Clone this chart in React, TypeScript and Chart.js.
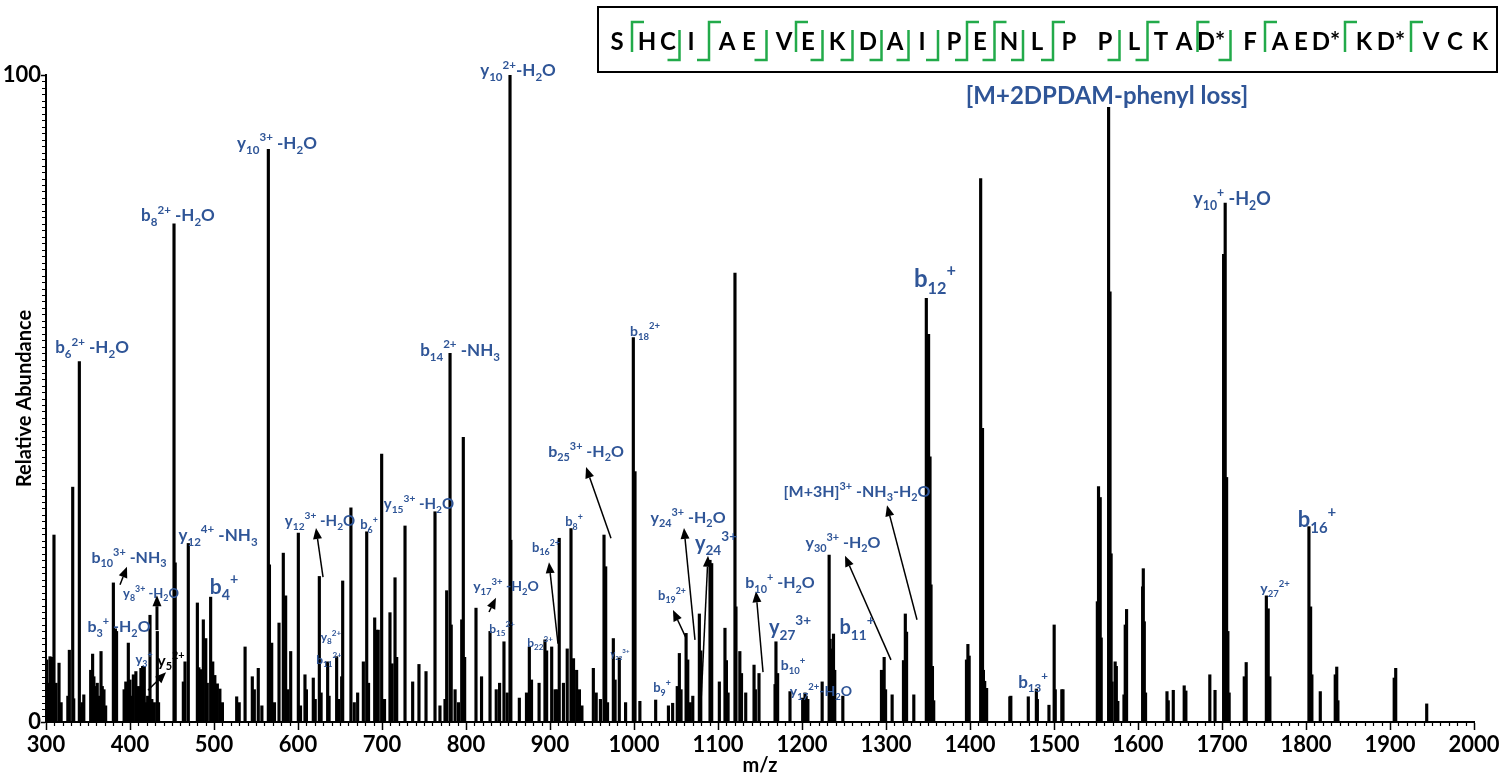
import React, { useEffect, useRef } from "react";
import { Chart, registerables } from "chart.js";

Chart.register(...registerables);

// ---------------- data ----------------
const mzMin = 300;
const mzMax = 2000;
const abundanceTickValues = [0, 100];

// [m/z, relative abundance %]
const peaks: [number, number][] = [
  [301, 9.6], [303, 6], [304.8, 10.1], [307, 10], [309.5, 28.9], [310.8, 3.5], [312, 6], [315.5, 9.1], [318, 3],
  [326, 4], [327.8, 11.1], [331.8, 36.3], [333, 3.6], [339.7, 55.7], [341, 2.3], [343, 3], [345, 4.2],
  [353.2, 8], [355.5, 10.5], [357, 7], [359, 5.5], [361, 6], [363, 4], [365.5, 10.9], [367, 5.5], [369, 5], [371, 2.5],
  [380.2, 21.5], [382.6, 14.4], [384, 14], [393, 5], [395, 6.2], [398, 12.2], [400, 6.5], [402, 4], [404, 7.3],
  [407, 7.8], [410, 5.5], [413, 8.3], [415, 8.6], [417, 8.6], [419, 3], [421, 4],
  [423.8, 16.5], [426, 3.5], [429, 3], [432.5, 14], [434, 3],
  [452.4, 77], [453.8, 24.6], [463.5, 6.2], [465.5, 9.3], [469.4, 27.6],
  [480.2, 18.4], [482, 8.4], [484.5, 8.1], [487.3, 15.8], [490.2, 12.9], [492, 6], [496, 19.3], [498.5, 9.3],
  [501, 7.2], [504, 5.9], [507, 5.1], [510, 3],
  [527, 3.9], [530, 3], [537, 11.6], [545.6, 7], [548, 5], [552.7, 8.3], [557, 2.5],
  [564.7, 88.5], [566, 24.3], [568.7, 12.2], [572, 3], [577.4, 15.3], [582.5, 26.1], [585.3, 19.5], [588, 5], [591.3, 10.9],
  [600.4, 29.2], [603, 2.5], [608.3, 7.3], [610, 5], [618.2, 6.8], [620.5, 3.5], [625.4, 22.5], [627.5, 4.5], [635.3, 9.3], [637, 4],
  [646, 10.1], [648.5, 3.5], [652, 7], [653.2, 21.8], [663, 33.1], [667, 3], [671, 4.5], [677.8, 9.3], [681.8, 29.4], [684, 6],
  [691.3, 16.1], [693.7, 14.2], [695.5, 14.2], [699.6, 41.4], [703, 3.5], [709.5, 16.9], [712, 9], [715.5, 22.3], [717.5, 10],
  [727.4, 30.3], [736.5, 6.2], [744, 8.9], [752.4, 7.8], [763.1, 32.5], [769, 2.5], [775, 3.5], [777, 20.3], [781, 57],
  [782.4, 15], [787, 5], [791, 3],
  [794.9, 15.8], [796.8, 44], [798.4, 10], [811.9, 17.6], [818.5, 7], [828.6, 14], [836, 5], [840, 6], [845.2, 12.4], [849, 4.5],
  [852.4, 100], [853.4, 28.1], [863.5, 3.7], [872, 4.5], [875.4, 11.6], [878, 6.5], [887, 6], [894, 12.7], [896, 11],
  [902, 11.6], [906, 5], [908.5, 5],
  [911, 28.4], [916, 6], [920.5, 11.3], [925, 29.9], [928, 9.8], [931.7, 8], [935, 5], [938, 2.5], [951.6, 8.3], [955, 4.5], [960, 3.5],
  [964.3, 28.9], [966.3, 24], [968.5, 3], [975.4, 12.9], [977.5, 6.5], [982.5, 9.9], [990, 3], [999.2, 59.4], [1001.2, 38.7], [1007, 3.2],
  [1025.8, 3.4], [1041, 2.5], [1046, 2.9], [1051.5, 5.5], [1054, 10.6], [1056, 5], [1062, 13.7], [1064, 9.6], [1067, 3], [1070, 4],
  [1077.8, 16.7], [1079.5, 11], [1090.5, 25], [1092.5, 24.5], [1101.6, 6.2], [1108.3, 14.5], [1110, 9.5], [1112, 4.5],
  [1120.2, 69.4], [1121.4, 17.8], [1126, 10.9], [1128, 7.5], [1133, 4.5], [1142.9, 8.8], [1144.5, 5], [1148.8, 7.5],
  [1167.9, 5.8], [1169, 12.4], [1171, 7.5], [1185.7, 4.7], [1200.8, 3.7], [1203.6, 4.5], [1205, 4], [1207, 3.5],
  [1224, 6.2], [1232.3, 25.8], [1233.5, 12.8], [1235.5, 11.3], [1237.5, 13.6], [1239, 8], [1248.6, 4],
  [1294.6, 8], [1297.8, 10], [1299.5, 5], [1307.3, 4.2], [1320.8, 9.5], [1323, 16.7], [1324.5, 13.9], [1333.1, 4.2],
  [1348, 65.5], [1350.7, 59.9], [1352.4, 41], [1353.6, 21.2], [1355.3, 8.6], [1356.8, 3.3],
  [1395.8, 9.6], [1397.5, 12], [1399, 10.2], [1412.7, 84], [1414.9, 45.4], [1416, 8], [1417.5, 6.3], [1419.8, 5.2],
  [1447.4, 3.9], [1448.6, 4], [1469.4, 3.9], [1479, 5.1], [1480.2, 3.5], [1494, 2.6], [1500.2, 15], [1501.5, 5],
  [1509.3, 5], [1510.7, 5],
  [1551.6, 18.6], [1553, 36.4], [1555, 34.7], [1556.2, 13], [1565, 95], [1566.7, 66.5], [1568, 26], [1569.2, 6.2],
  [1572.8, 9.3], [1574.2, 8.6], [1576, 3.2],
  [1583.3, 4.2], [1584.8, 15], [1586.4, 17.4], [1605.5, 20.9], [1606.3, 23.7], [1607.5, 15.5], [1609, 4.5],
  [1634.5, 4.7], [1636, 3.3], [1642, 4.9], [1655, 5.6], [1657, 4.8], [1685.5, 7.3], [1691.7, 4.9],
  [1701.9, 72.3], [1703.8, 80.2], [1705.5, 37.8], [1707, 14], [1708.5, 4.5], [1726.5, 7], [1728.8, 9.2],
  [1752.8, 19.5], [1755, 17.5], [1757, 7], [1803.5, 30.2], [1805.5, 17.8], [1807, 7.3], [1817, 4.7],
  [1834.8, 7.3], [1836.6, 8.5], [1838, 3.3], [1905, 6.8], [1906.8, 8.3], [1943.7, 2.8],
];

// ion annotations: text (with _{sub} ^{sup}), anchor in data units (centre m/z, baseline %)
type IonLabel = { text: string; mz: number; ab: number; size: number; color?: string };
const ionLabels: IonLabel[] = [
  { text: "y_{10}^{2+}-H_{2}O", mz: 861.9, ab: 99.8, size: 17 },
  { text: "y_{10}^{3+} -H_{2}O", mz: 575, ab: 88.6, size: 17 },
  { text: "b_{8}^{2+} -H_{2}O", mz: 457.1, ab: 77.4, size: 17 },
  { text: "b_{6}^{2+} -H_{2}O", mz: 354.8, ab: 57, size: 17 },
  { text: "b_{14}^{2+} -NH_{3}", mz: 792.9, ab: 56.6, size: 17 },
  { text: "b_{18}^{2+}", mz: 1013.1, ab: 59.7, size: 14 },
  { text: "y_{12}^{4+} -NH_{3}", mz: 504.8, ab: 28, size: 17 },
  { text: "b_{10}^{3+} -NH_{3}", mz: 398.8, ab: 24.6, size: 16 },
  { text: "y_{8}^{3+} -H_{2}O", mz: 425, ab: 19.2, size: 13 },
  { text: "b_{4}^{+}", mz: 511.9, ab: 19.8, size: 21 },
  { text: "b_{3}^{+} -H_{2}O", mz: 386.9, ab: 13.9, size: 16 },
  { text: "y_{3}^{+}", mz: 416.7, ab: 9, size: 13 },
  { text: "y_{5}^{2+}", mz: 448.8, ab: 8.7, size: 16, color: "#000000" },
  { text: "y_{12}^{3+} -H_{2}O", mz: 626.2, ab: 30.3, size: 15 },
  { text: "b_{6}^{+}", mz: 684.5, ab: 29.8, size: 13 },
  { text: "y_{15}^{3+} -H_{2}O", mz: 744, ab: 32.9, size: 15 },
  { text: "y_{8}^{2+}", mz: 639.3, ab: 12.5, size: 12 },
  { text: "b_{11}^{2+}", mz: 636.9, ab: 9, size: 12 },
  { text: "b_{25}^{3+} -H_{2}O", mz: 942.9, ab: 41, size: 16 },
  { text: "b_{8}^{+}", mz: 928.6, ab: 30.3, size: 13 },
  { text: "b_{16}^{2+}", mz: 895.2, ab: 26.3, size: 13 },
  { text: "y_{17}^{3+} -H_{2}O", mz: 847.6, ab: 20.2, size: 14 },
  { text: "b_{15}^{2+}", mz: 842.9, ab: 13.8, size: 12 },
  { text: "b_{22}^{3+}", mz: 888.1, ab: 11.6, size: 12 },
  { text: "y_{22}^{3+}", mz: 983.3, ab: 10, size: 9 },
  { text: "b_{9}^{+}", mz: 1033.3, ab: 4.6, size: 13 },
  { text: "b_{19}^{2+}", mz: 1045.2, ab: 18.9, size: 13 },
  { text: "y_{24}^{3+} -H_{2}O", mz: 1064.3, ab: 30.8, size: 16 },
  { text: "y_{24}^{3+}", mz: 1097.6, ab: 26.6, size: 20 },
  { text: "b_{10}^{+} -H_{2}O", mz: 1173.8, ab: 20.7, size: 16 },
  { text: "y_{27}^{3+}", mz: 1185.7, ab: 13.6, size: 20 },
  { text: "b_{10}^{+}", mz: 1189.3, ab: 8, size: 14 },
  { text: "y_{17}^{2+}-H_{2}O", mz: 1222.6, ab: 4, size: 14 },
  { text: "b_{11}^{+}", mz: 1265.5, ab: 13.6, size: 20 },
  { text: "y_{30}^{3+} -H_{2}O", mz: 1248.8, ab: 26.9, size: 16 },
  { text: "[M+3H]^{3+} -NH_{3}-H_{2}O", mz: 1265.5, ab: 34.8, size: 16 },
  { text: "b_{12}^{+}", mz: 1358.3, ab: 67.2, size: 24 },
  { text: "[M+2DPDAM-phenyl loss]", mz: 1563.1, ab: 95.5, size: 24 },
  { text: "b_{13}^{+}", mz: 1475, ab: 5.3, size: 17 },
  { text: "y_{10}^{+} -H_{2}O", mz: 1711.9, ab: 79.9, size: 18 },
  { text: "b_{16}^{+}", mz: 1813.1, ab: 30.1, size: 22 },
  { text: "y_{27}^{2+}", mz: 1763.1, ab: 19.9, size: 14 },
];

// arrows: [tail m/z, tail %, head m/z, head %, line width]
const arrows: [number, number, number, number, number][] = [
  [388.1, 21.2, 396.4, 24, 1.5],
  [432.1, 14.2, 432.1, 19.6, 3],
  [421.4, 4.9, 442.9, 7.7, 1.5],
  [629.8, 22.4, 621.4, 30, 1.5],
  [827.4, 17, 835.7, 19.2, 1.5],
  [909.5, 12.1, 898.8, 24.7, 1.5],
  [972.6, 28.4, 942.9, 39.4, 1.5],
  [1061.9, 13, 1046.4, 17.3, 1.5],
  [1072.6, 12.7, 1059.5, 30, 1.5],
  [1079.8, 3.1, 1088.1, 25.7, 1.5],
  [1153.6, 7.7, 1145.2, 20.2, 1.5],
  [1305.9, 9.6, 1251.2, 25.7, 1.5],
  [1336.9, 15.8, 1301.2, 33.5, 1.5],
];

// peptide sequence inset
const sequenceLetters = ["S", "H", "C", "I", "A", "E", "V", "E", "K", "D", "A", "I", "P", "E", "N", "L",
  "P", "P", "L", "T", "A", "D*", "F", "A", "E", "D*", "K", "D*", "V", "C", "K"];
const sequenceX = [617, 647, 668, 691, 727, 749, 784, 808, 837, 868, 895, 922, 954, 980, 1009, 1037,
  1069, 1105, 1134, 1161, 1184, 1211, 1250, 1280, 1301, 1326, 1364, 1391, 1431, 1455, 1480];
// fragment marks for each gap: b = N-terminal (top), y = C-terminal (bottom)
const cleavageMarks = ["b", "", "y", "yb", "", "y", "b", "y", "y", "y", "y", "y", "yb", "yb", "y", "yb",
  "", "y", "yb", "", "b", "y", "b", "", "", "b", "", "b", "", ""];

// ---------------- drawing helpers ----------------
const FONT = "Lato, 'Open Sans', 'DejaVu Sans', sans-serif";
const BLUE = "#2F5597";
const GREEN = "#22AA4A";

type Part = { t: string; k: "n" | "sub" | "sup" };
function parseRich(text: string): Part[] {
  const parts: Part[] = [];
  const re = /_\{([^}]*)\}|\^\{([^}]*)\}|([^_^]+)/g;
  let m: RegExpExecArray | null;
  while ((m = re.exec(text))) {
    if (m[1] !== undefined) parts.push({ t: m[1], k: "sub" });
    else if (m[2] !== undefined) parts.push({ t: m[2], k: "sup" });
    else parts.push({ t: m[3], k: "n" });
  }
  return parts;
}

function drawRich(ctx: CanvasRenderingContext2D, text: string, cx: number, by: number, size: number, color: string) {
  const segs = parseRich(text).map((p) => {
    const s = p.k === "n" ? size : size * 0.68;
    ctx.font = `bold ${s}px ${FONT}`;
    return { ...p, s, w: ctx.measureText(p.t).width };
  });
  const total = segs.reduce((a, b) => a + b.w, 0);
  let x = cx - total / 2;
  ctx.fillStyle = color;
  ctx.textAlign = "left";
  ctx.textBaseline = "alphabetic";
  for (const p of segs) {
    ctx.font = `bold ${p.s}px ${FONT}`;
    const dy = p.k === "sub" ? size * 0.28 : p.k === "sup" ? -size * 0.45 : 0;
    ctx.fillText(p.t, x, by + dy);
    x += p.w;
  }
}

function drawArrow(ctx: CanvasRenderingContext2D, x1: number, y1: number, x2: number, y2: number, w: number) {
  const ang = Math.atan2(y2 - y1, x2 - x1);
  const head = 11;
  const half = 4.5;
  const bx = x2 - head * Math.cos(ang);
  const byy = y2 - head * Math.sin(ang);
  ctx.strokeStyle = "#000";
  ctx.lineWidth = w;
  ctx.beginPath();
  ctx.moveTo(x1, y1);
  ctx.lineTo(bx, byy);
  ctx.stroke();
  ctx.fillStyle = "#000";
  ctx.beginPath();
  ctx.moveTo(x2, y2);
  ctx.lineTo(bx + half * Math.sin(ang), byy - half * Math.cos(ang));
  ctx.lineTo(bx - half * Math.sin(ang), byy + half * Math.cos(ang));
  ctx.closePath();
  ctx.fill();
}

const minorTickPlugin = {
  id: "minorTicks",
  afterDraw(chart: any) {
    const { ctx, chartArea, scales } = chart;
    const xs = scales.x;
    const ys = scales.y;
    ctx.save();
    ctx.strokeStyle = "#000";
    ctx.lineWidth = 1.2;
    ctx.beginPath();
    for (let v = mzMin + 10; v < mzMax; v += 10) {
      if (v % 100 === 0) continue;
      const px = Math.round(xs.getPixelForValue(v)) + 0.5;
      ctx.moveTo(px, chartArea.bottom);
      ctx.lineTo(px, chartArea.bottom + 4);
    }
    for (let v = 1; v < 100; v += 1) {
      const py = Math.round(ys.getPixelForValue(v)) + 0.5;
      ctx.moveTo(chartArea.left - 4, py);
      ctx.lineTo(chartArea.left, py);
    }
    ctx.stroke();
    ctx.restore();
  },
};

const annotationPlugin = {
  id: "ionAnnotations",
  afterDraw(chart: any) {
    const { ctx, scales } = chart;
    const xs = scales.x;
    const ys = scales.y;
    ctx.save();
    for (const a of arrows) {
      drawArrow(ctx, xs.getPixelForValue(a[0]), ys.getPixelForValue(a[1]), xs.getPixelForValue(a[2]), ys.getPixelForValue(a[3]), a[4]);
    }
    for (const l of ionLabels) {
      drawRich(ctx, l.text, xs.getPixelForValue(l.mz), ys.getPixelForValue(l.ab), l.size, l.color || BLUE);
    }
    ctx.restore();
  },
};

const sequencePlugin = {
  id: "sequenceInset",
  afterDraw(chart: any) {
    const { ctx } = chart;
    ctx.save();
    ctx.strokeStyle = "#000";
    ctx.lineWidth = 2;
    ctx.strokeRect(598, 7, 899, 65);
    ctx.fillStyle = "#000";
    ctx.font = `bold 24px ${FONT}`;
    ctx.textAlign = "center";
    ctx.textBaseline = "alphabetic";
    sequenceLetters.forEach((s, i) => ctx.fillText(s, sequenceX[i], 50));
    ctx.strokeStyle = GREEN;
    ctx.lineWidth = 2.5;
    ctx.lineJoin = "miter";
    cleavageMarks.forEach((m, i) => {
      if (!m) return;
      const gx = (sequenceX[i] + sequenceX[i + 1]) / 2;
      const top = 22;
      const bot = 60;
      const len = 12;
      ctx.beginPath();
      if (m === "b") {
        ctx.moveTo(gx, 52);
        ctx.lineTo(gx, top);
        ctx.lineTo(gx + len, top);
      } else if (m === "y") {
        ctx.moveTo(gx - len, bot);
        ctx.lineTo(gx, bot);
        ctx.lineTo(gx, 30);
      } else {
        ctx.moveTo(gx - len, bot);
        ctx.lineTo(gx, bot);
        ctx.lineTo(gx, top);
        ctx.lineTo(gx + len, top);
      }
      ctx.stroke();
    });
    ctx.restore();
  },
};

// ---------------- component ----------------
export default function App() {
  const ref = useRef<HTMLCanvasElement | null>(null);

  useEffect(() => {
    if (!ref.current) return;
    const chart = new Chart(ref.current, {
      type: "bar",
      data: {
        datasets: [
          {
            data: peaks.map(([x, y]) => ({ x, y })),
            backgroundColor: "#000",
            borderWidth: 0,
            barThickness: 2.5,
            grouped: false,
          } as any,
        ],
      },
      options: {
        animation: false,
        responsive: false,
        maintainAspectRatio: false,
        layout: { padding: { top: 75, right: 32, left: 0, bottom: 0 } },
        plugins: { legend: { display: false }, tooltip: { enabled: false } },
        scales: {
          x: {
            type: "linear",
            min: mzMin,
            max: mzMax,
            offset: false,
            ticks: {
              stepSize: 100,
              autoSkip: false,
              maxRotation: 0,
              color: "#000",
              padding: 2,
              callback: (v: any) => String(v),
              font: { family: FONT, size: 22, weight: "bold" },
            },
            grid: { display: true, drawOnChartArea: false, offset: false, tickLength: 8, tickColor: "#000", tickWidth: 1.5 },
            border: { display: true, color: "#000", width: 2 },
            title: {
              display: true,
              text: "m/z",
              color: "#000",
              padding: { top: 0, bottom: 0 },
              font: { family: FONT, size: 20, weight: "bold" },
            },
            afterFit: (s: any) => {
              s.height = 56;
            },
          },
          y: {
            min: 0,
            max: 100,
            afterBuildTicks: (s: any) => {
              s.ticks = abundanceTickValues.map((v) => ({ value: v }));
            },
            ticks: {
              color: "#000",
              padding: 0,
              font: { family: FONT, size: 22, weight: "bold" },
            },
            grid: { display: true, drawOnChartArea: false, tickLength: 5, tickColor: "#000", tickWidth: 1.5 },
            border: { display: true, color: "#000", width: 2 },
            title: {
              display: true,
              text: "Relative Abundance",
              color: "#000",
              padding: { top: 13, bottom: 0 },
              font: { family: FONT, size: 20, weight: "bold" },
            },
            afterFit: (s: any) => {
              s.width = 46;
            },
          },
        },
      } as any,
      plugins: [minorTickPlugin, annotationPlugin, sequencePlugin],
    });
    return () => chart.destroy();
  }, []);

  return (
    <div style={{ position: "fixed", left: 0, top: 0, width: 1506, height: 778, background: "#fff" }}>
      <canvas ref={ref} width={1506} height={778} style={{ display: "block", width: 1506, height: 778 }} />
    </div>
  );
}
